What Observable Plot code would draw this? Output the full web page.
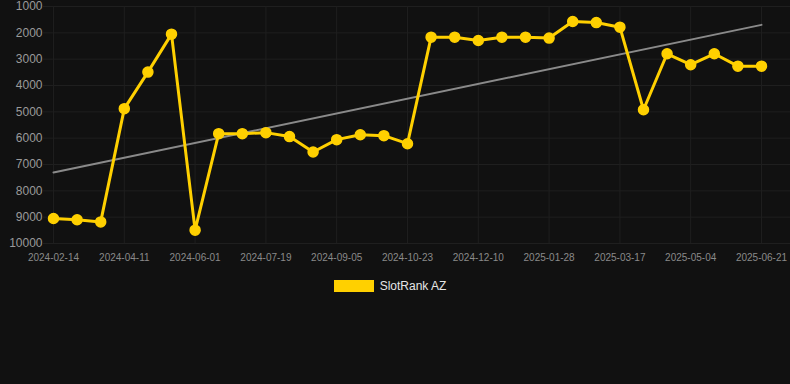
<!DOCTYPE html>
<html>
<head>
<meta charset="utf-8">
<script src="https://cdn.jsdelivr.net/npm/d3@7"></script>
<script src="https://cdn.jsdelivr.net/npm/@observablehq/plot@0.6"></script>
<style>
  html, body { margin: 0; padding: 0; background: #111111; }
  body { width: 790px; height: 384px; overflow: hidden; font-family: "Liberation Sans", Arial, sans-serif; }
  #legend { display: flex; justify-content: center; align-items: center; margin-top: 9px; margin-left: -10px; }
  #legend .sw { width: 40px; height: 12px; background: #FFD000; margin-right: 6px; }
  #legend span { color: #e6e6e6; font-size: 12px; }
</style>
</head>
<body>
<div id="chart"></div>
<div id="legend"><div class="sw"></div><span>SlotRank AZ</span></div>
<script>
const dates = [
  "2024-02-14","2024-03-03","2024-03-22","2024-04-11","2024-04-28","2024-05-15",
  "2024-06-01","2024-06-17","2024-07-03","2024-07-19","2024-08-04","2024-08-20",
  "2024-09-05","2024-09-21","2024-10-07","2024-10-23","2024-11-08","2024-11-24",
  "2024-12-10","2024-12-26","2025-01-12","2025-01-28","2025-02-13","2025-03-01",
  "2025-03-17","2025-04-02","2025-04-18","2025-05-04","2025-05-20","2025-06-05",
  "2025-06-21"
];
const ranks = [
  9050, 9100, 9180, 4880, 3490, 2050,
  9494, 5830, 5830, 5790, 5940, 6525,
  6056, 5870, 5905, 6210, 2165, 2165,
  2290, 2165, 2165, 2200, 1570, 1610,
  1785, 4920, 2795, 3210, 2795, 3265,
  3265
];
const yTicks = [1000, 2000, 3000, 4000, 5000, 6000, 7000, 8000, 9000, 10000];
const xTickIdx = [0, 3, 6, 9, 12, 15, 18, 21, 24, 27, 30];

const data = dates.map((d, i) => ({i, date: d, rank: ranks[i]}));

// linear regression trend over index
const n = ranks.length;
const mx = d3.mean(data, d => d.i), my = d3.mean(ranks);
const slope = d3.sum(data, d => (d.i - mx) * (d.rank - my)) / d3.sum(data, d => (d.i - mx) ** 2);
const trend = [0, n - 1].map(i => ({i, rank: my + slope * (i - mx)}));

const chart = Plot.plot({
  width: 790,
  height: 270,
  marginLeft: 43,
  marginRight: 0,
  marginTop: 6,
  marginBottom: 27,
  style: {background: "#111111", fontFamily: "Liberation Sans, Arial, sans-serif"},
  x: {type: "linear", domain: [-0.4237, 31.229], label: null},
  y: {domain: [1000, 10000], reverse: true, label: null},
  marks: [
    Plot.ruleY(yTicks, {stroke: "#1f1f1f", strokeWidth: 1}),
    Plot.ruleX(xTickIdx, {stroke: "#1f1f1f", strokeWidth: 1, y1: 1000, y2: 10000}),
    Plot.axisY({ticks: yTicks, label: null, tickSize: 0, tickPadding: 1, fontSize: 12, color: "#9a9a9a", tickFormat: d => String(d)}),
    Plot.axisX({ticks: xTickIdx, label: null, tickSize: 0, tickPadding: 10, fontSize: 10, color: "#8a8a8a", tickFormat: i => dates[i]}),
    Plot.line(trend, {x: "i", y: "rank", stroke: "#8a8a8a", strokeWidth: 2}),
    Plot.line(data, {x: "i", y: "rank", stroke: "#FFD000", strokeWidth: 3}),
    Plot.dot(data, {x: "i", y: "rank", r: 5, fill: "#FFD000", stroke: "#FFD000"})
  ]
});
document.getElementById("chart").appendChild(chart);
</script>
</body>
</html>
